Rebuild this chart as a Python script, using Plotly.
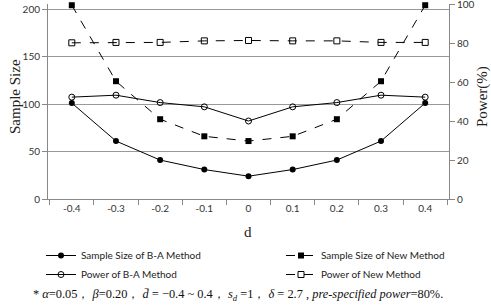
import plotly.graph_objects as go

d_labels = ["-0.4", "-0.3", "-0.2", "-0.1", "0", "0.1", "0.2", "0.3", "0.4"]
ss_ba = [101, 61, 41, 31, 24, 31, 41, 61, 101]
ss_new = [204, 124, 84, 66, 61, 66, 84, 124, 204]
pw_ba = [52.5, 53.5, 49.7, 47.5, 40.2, 47.5, 49.7, 53.5, 52.5]
pw_new = [80.5, 80.7, 80.7, 81.5, 81.7, 81.5, 81.5, 80.7, 80.7]
y1_ticks = [0, 50, 100, 150, 200]
y2_ticks = [0, 20, 40, 60, 80, 100]

lw = 1
fig = go.Figure()
fig.add_trace(go.Scatter(x=d_labels, y=ss_ba, name="Sample Size of B-A Method", mode="lines+markers",
                         line=dict(color="black", width=lw), marker=dict(symbol="circle", size=6, color="black"),
                         legend="legend", legendgroup="a", cliponaxis=False))
fig.add_trace(go.Scatter(x=d_labels, y=pw_ba, name="Power of B-A Method", mode="lines+markers", yaxis="y2",
                         line=dict(color="black", width=lw),
                         marker=dict(symbol="circle-open", size=6, color="black", line=dict(width=1)),
                         legend="legend", legendgroup="b", cliponaxis=False))
fig.add_trace(go.Scatter(x=d_labels, y=ss_new, name="Sample Size of New Method", mode="lines+markers",
                         line=dict(color="black", width=lw, dash="dash"),
                         marker=dict(symbol="square", size=6, color="black"),
                         legend="legend2", legendgroup="c", cliponaxis=False))
fig.add_trace(go.Scatter(x=d_labels, y=pw_new, name="Power of New Method", mode="lines+markers", yaxis="y2",
                         line=dict(color="black", width=lw, dash="dash"),
                         marker=dict(symbol="square-open", size=6, color="black", line=dict(width=1)),
                         legend="legend2", legendgroup="d", cliponaxis=False))

tickfont = dict(family="Lato, Liberation Sans, sans-serif", size=10, color="#333")
legfont = dict(family="Lato, sans-serif", size=10, color="#222")
fig.update_layout(
    width=491, height=308,
    margin=dict(l=48, r=42, t=4, b=109, autoexpand=False),
    plot_bgcolor="white", paper_bgcolor="white",
    xaxis=dict(type="category", tickson="boundaries", ticks="outside", ticklen=5, tickcolor="#888",
               showline=True, linecolor="#888", showgrid=False, tickfont=tickfont, automargin=False),
    yaxis=dict(range=[0, 205.3], tickvals=y1_ticks, ticks="outside", ticklen=5, tickcolor="#888",
               showline=True, linecolor="#888", showgrid=True, gridcolor="#999", gridwidth=1,
               zeroline=False, tickfont=tickfont, automargin=False, ticklabeloverflow="allow"),
    yaxis2=dict(range=[0, 100.5], tickvals=y2_ticks, overlaying="y", side="right", ticks="outside", ticklen=5,
                tickcolor="#888", showline=True, linecolor="#888", showgrid=False, zeroline=False,
                tickfont=tickfont, automargin=False, ticklabeloverflow="allow"),
    legend=dict(x=41 / 491, xanchor="left", y=0.2175, yanchor="top", xref="container", yref="container",
                font=legfont, tracegroupgap=0, bgcolor="rgba(0,0,0,0)", itemwidth=30),
    legend2=dict(x=281 / 491, xanchor="left", y=0.2175, yanchor="top", xref="container", yref="container",
                 font=legfont, tracegroupgap=0, bgcolor="rgba(0,0,0,0)", itemwidth=30),
    showlegend=True,
)

serif = "Liberation Serif, Times New Roman, serif"
H = 195
fig.add_annotation(text="Sample Size", xref="paper", yref="paper", x=(15 - 48) / 401, y=(199 - 97) / H,
                   textangle=-90, showarrow=False, xanchor="center", yanchor="middle",
                   font=dict(family=serif, size=15, color="#222"))
fig.add_annotation(text="Power(%)", xref="paper", yref="paper", x=(482 - 48) / 401, y=(199 - 97) / H,
                   textangle=-90, showarrow=False, xanchor="center", yanchor="middle",
                   font=dict(family=serif, size=15, color="#222"))
fig.add_annotation(text="d", xref="paper", yref="paper", x=(248 - 48) / 401, y=(199 - 232) / H,
                   showarrow=False, xanchor="center", yanchor="middle",
                   font=dict(family=serif, size=15, color="#222"))
fig.add_annotation(
    text="* <i>α</i>=0.05， <i>β</i>=0.20， <i>d̄</i> = −0.4 ~ 0.4， <i>s</i><sub><i>d</i></sub> =1， <i>δ</i> = 2.7 , <i>pre-specified power</i>=80%.",
    xref="paper", yref="paper", x=(238 - 48) / 401, y=(199 - 295) / H, xanchor="center", yanchor="middle",
    showarrow=False, font=dict(family=serif, size=12.4, color="#111"))

fig.write_html("out.html", config={"displayModeBar": False},
               post_script="document.body.style.margin='0';")
